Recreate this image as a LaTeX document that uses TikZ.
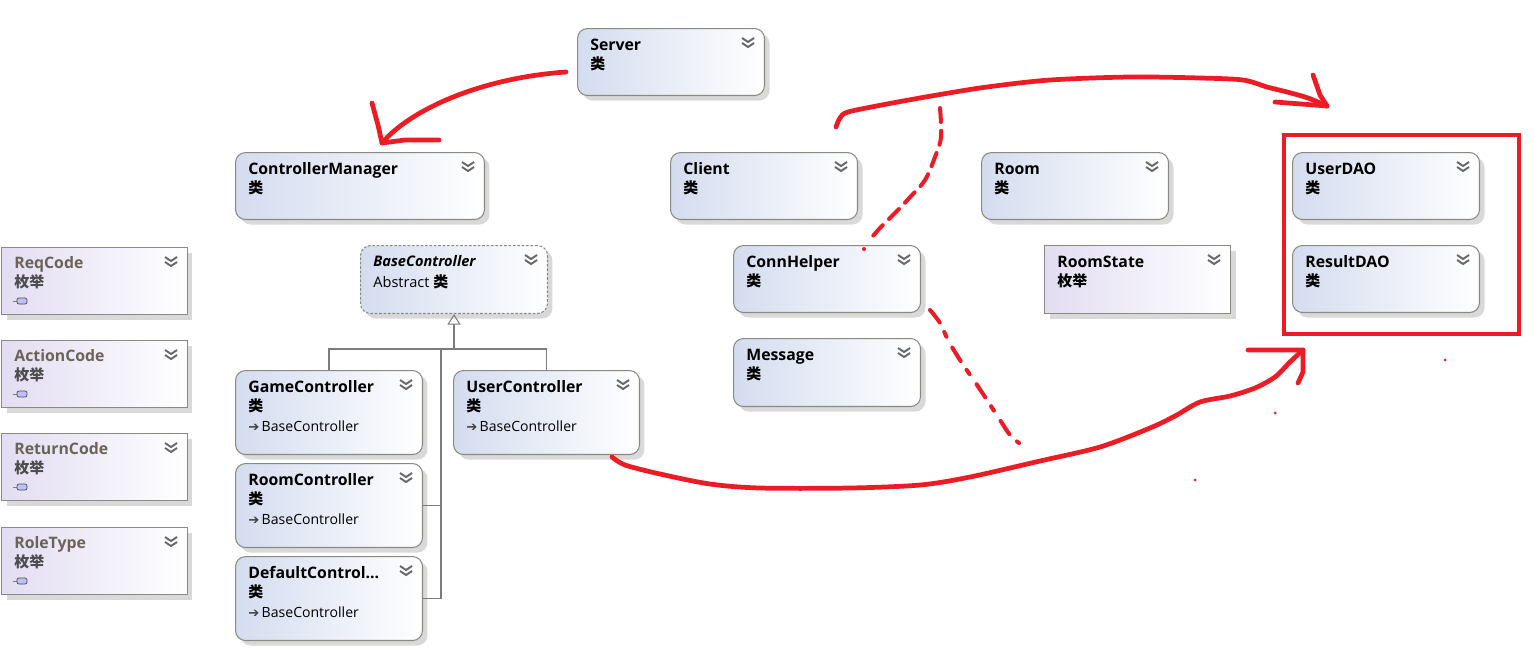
\documentclass[tikz,border=0pt]{standalone}
\usepackage{fontspec}
\setmainfont{Open Sans}
\newfontfamily\cjk{Noto Sans CJK SC}
\newfontfamily\symb{DejaVu Sans}
\usepackage{xcolor}
\usepackage{tikz}
\usetikzlibrary{arrows.meta, calc, shadows}
\definecolor{boxblue}{RGB}{212, 220, 239}
\definecolor{boxlilac}{RGB}{226, 221, 242}
\definecolor{boxline}{RGB}{138, 138, 130}
\definecolor{chevgray}{RGB}{105, 105, 105}
\definecolor{enumtitle}{RGB}{108, 99, 88}
\definecolor{inkred}{RGB}{237, 28, 36}
\definecolor{linkgray}{RGB}{125, 125, 120}

\newcommand{\kind}[1]{{\cjk\bfseries\fontsize{8.5}{11.2}\selectfont #1}}
\newcommand{\inherits}[1]{{\fontsize{8}{11.2}\selectfont{\symb\fontsize{7.5}{11.2}\selectfont\textcolor{black!75}{➔}}\,#1}}

\begin{document}
\begin{tikzpicture}[
        x=0.02cm, y=-0.02cm,
        cls/.style={rectangle, rounded corners=0.2cm, draw=boxline, line width=0.6pt, left color=boxblue, right color=white, anchor=north west, minimum width=3.74cm, minimum height=1.34cm, inner sep=0pt, drop shadow={shadow xshift=0.1cm, shadow yshift=-0.1cm, fill=black!15, opacity=1}},
        ctrl/.style={cls, minimum height=1.68cm},
        abstract/.style={cls, dash pattern=on 1.5pt off 1pt},
        enum/.style={cls, sharp corners, left color=boxlilac},
        txt/.style={anchor=north west, inner sep=0pt, align=left, font=\fontsize{9}{11.2}\selectfont},
        gen/.style={draw=linkgray, line width=0.6pt},
        ink/.style={draw=inkred, line width=2.7pt, line cap=round, line join=round},
        chev/.pic={
            \draw[chevgray, line width=1.1pt] (-6,-3) -- (0,1) -- (6,-3);
            \draw[chevgray, line width=1.1pt] (-6,2) -- (0,6) -- (6,2);
        },
        enumic/.pic={
            \draw[gray, line width=0.5pt] (-4,0) -- (0,0);
            \draw[black!70, fill=blue!25, line width=0.4pt, rounded corners=0.04cm] (0,-3) rectangle (10,3);
        }
    ]
        \useasboundingbox (0,0) rectangle (1534,650);

        % Server and manager
        \node (srv) [cls] at (577,28) {};
        \node [txt] (srv-t) at ([shift={(13,8)}]srv.north west) {\strut\textbf{Server}\\\kind{类}};
        \pic at ([shift={(-17,13)}]srv.north east) {chev};

        \node (cmgr) [cls, minimum width=4.98cm] at (235,152) {};
        \node [txt] (cmgr-t) at ([shift={(13,8)}]cmgr.north west) {\strut\textbf{ControllerManager}\\\kind{类}};
        \pic at ([shift={(-17,13)}]cmgr.north east) {chev};

        % Controllers
        \node (basec) [abstract, minimum height=1.36cm] at (360,245) {};
        \node [txt, font=\fontsize{8.3}{11.6}\selectfont] (basec-t) at ([shift={(13,7)}]basec.north west) {\strut\textbf{\textit{BaseController}}\\Abstract \kind{类}};
        \pic at ([shift={(-17,13)}]basec.north east) {chev};

        \node (gamec) [ctrl] at (235,370) {};
        \node [txt] (gamec-t) at ([shift={(13,8)}]gamec.north west) {\strut\textbf{GameController}\\\kind{类}\\\inherits{BaseController}};
        \pic at ([shift={(-17,13)}]gamec.north east) {chev};

        \node (userc) [ctrl, minimum width=3.72cm] at (453,370) {};
        \node [txt] (userc-t) at ([shift={(13,8)}]userc.north west) {\strut\textbf{UserController}\\\kind{类}\\\inherits{BaseController}};
        \pic at ([shift={(-17,13)}]userc.north east) {chev};

        \node (roomc) [ctrl] at (235,463) {};
        \node [txt] (roomc-t) at ([shift={(13,8)}]roomc.north west) {\strut\textbf{RoomController}\\\kind{类}\\\inherits{BaseController}};
        \pic at ([shift={(-17,13)}]roomc.north east) {chev};

        \node (dfltc) [ctrl] at (235,556) {};
        \node [txt] (dfltc-t) at ([shift={(13,8)}]dfltc.north west) {\strut\textbf{DefaultControl...}\\\kind{类}\\\inherits{BaseController}};
        \pic at ([shift={(-17,13)}]dfltc.north east) {chev};

        % Inheritance
        \coordinate (jn) at (basec.south |- 0,349);
        \coordinate (jv) at (441,349);
        \draw[gen, -{Triangle[open, width=7.5pt, length=6pt]}] (jn) -- (basec.south);
        \draw[gen] (gamec.north) |- (userc.north |- jn) -- (userc.north);
        \draw[gen] (dfltc.east) -| (jv);
        \draw[gen] (roomc.east) -- (roomc.east -| jv);

        % Network classes
        \node (client) [cls] at (670,152) {};
        \node [txt] (client-t) at ([shift={(13,8)}]client.north west) {\strut\textbf{Client}\\\kind{类}};
        \pic at ([shift={(-17,13)}]client.north east) {chev};

        \node (connh) [cls] at (733,245) {};
        \node [txt] (connh-t) at ([shift={(13,8)}]connh.north west) {\strut\textbf{ConnHelper}\\\kind{类}};
        \pic at ([shift={(-17,13)}]connh.north east) {chev};

        \node (msg) [cls, minimum height=1.36cm] at (733,338) {};
        \node [txt] (msg-t) at ([shift={(13,8)}]msg.north west) {\strut\textbf{Message}\\\kind{类}};
        \pic at ([shift={(-17,13)}]msg.north east) {chev};

        \node (room) [cls] at (981,152) {};
        \node [txt] (room-t) at ([shift={(13,8)}]room.north west) {\strut\textbf{Room}\\\kind{类}};
        \pic at ([shift={(-17,13)}]room.north east) {chev};

        \node (roomst) [enum, minimum width=3.72cm, minimum height=1.36cm] at (1044,245) {};
        \node [txt] (roomst-t) at ([shift={(13,8)}]roomst.north west) {\strut\textbf{RoomState}\\\kind{枚举}};
        \pic at ([shift={(-17,13)}]roomst.north east) {chev};

        % DAO
        \node (udao) [cls] at (1292,152) {};
        \node [txt] (udao-t) at ([shift={(13,8)}]udao.north west) {\strut\textbf{UserDAO}\\\kind{类}};
        \pic at ([shift={(-17,13)}]udao.north east) {chev};

        \node (rdao) [cls] at (1292,245) {};
        \node [txt] (rdao-t) at ([shift={(13,8)}]rdao.north west) {\strut\textbf{ResultDAO}\\\kind{类}};
        \pic at ([shift={(-17,13)}]rdao.north east) {chev};

        % Enums
        \node (reqc) [enum, minimum width=3.72cm] at (1,247) {};
        \node [txt] (reqc-t) at ([shift={(13,7)}]reqc.north west) {\strut\textcolor{enumtitle}{\textbf{ReqCode}}\\\textcolor{black!70}{\kind{枚举}}};
        \pic at ([shift={(-17,13)}]reqc.north east) {chev};
        \pic at ([shift={(16,54)}]reqc.north west) {enumic};

        \node (actc) [enum, minimum width=3.72cm] at (1,340) {};
        \node [txt] (actc-t) at ([shift={(13,7)}]actc.north west) {\strut\textcolor{enumtitle}{\textbf{ActionCode}}\\\textcolor{black!70}{\kind{枚举}}};
        \pic at ([shift={(-17,13)}]actc.north east) {chev};
        \pic at ([shift={(16,54)}]actc.north west) {enumic};

        \node (retc) [enum, minimum width=3.72cm] at (1,433) {};
        \node [txt] (retc-t) at ([shift={(13,7)}]retc.north west) {\strut\textcolor{enumtitle}{\textbf{ReturnCode}}\\\textcolor{black!70}{\kind{枚举}}};
        \pic at ([shift={(-17,13)}]retc.north east) {chev};
        \pic at ([shift={(16,54)}]retc.north west) {enumic};

        \node (rolet) [enum, minimum width=3.72cm] at (1,527) {};
        \node [txt] (rolet-t) at ([shift={(13,7)}]rolet.north west) {\strut\textcolor{enumtitle}{\textbf{RoleType}}\\\textcolor{black!70}{\kind{枚举}}};
        \pic at ([shift={(-17,13)}]rolet.north east) {chev};
        \pic at ([shift={(16,54)}]rolet.north west) {enumic};

        % Red ink notes
        \coordinate (ink1) at ([shift={(-11,44)}]srv.north west);
        \coordinate (tip1) at (382,143);
        \draw[ink] (ink1) .. controls (480,78) and (410,110) .. (tip1);
        \draw[ink] (372,103) -- (378,125) -- (tip1) -- (405,140) -- (439,140);

        \coordinate (ink2) at (836,127);
        \coordinate (tip2) at (1327,106);
        \draw[ink] plot[smooth, tension=0.5] coordinates {(ink2) (840,118) (848,112) (887,104) (937,95) (987,87) (1050,80) (1130,77) (1200,78) (1243,80) (1267,87) (1287,92) (1308,98) (tip2)};
        \draw[ink] (1313,75) -- (1320,95) -- (tip2);
        \draw[ink] (1275,102) -- (tip2);

        \draw[ink, line width=2.3pt, dash pattern=on 8pt off 5pt] plot[smooth, tension=0.6] coordinates {(940,108) (941,137) (935,157) (925,180) (912,195) (898,210) (880,228) (868,242)};
        \fill[inkred] (864,249) circle (0.04cm);
        \draw[ink, line width=2.3pt, dash pattern=on 9pt off 6pt on 3pt off 7pt] plot[smooth, tension=0.6] coordinates {(930,310) (940,323) (948,340) (960,360) (975,382) (987,400) (1000,420) (1010,435) (1019,443)};

        \coordinate (ink4) at (612,457);
        \coordinate (tip4) at (1303,350);
        \draw[ink] plot[smooth, tension=0.5] coordinates {(ink4) (625,465) (660,474) (710,484) (760,488) (850,488) (920,485) (970,477) (1040,461) (1100,447) (1150,428) (1175,416) (1200,402) (1230,396) (1255,388) (1275,377) (1290,362) (tip4)};
        \draw[ink] (1248,350) -- (tip4) -- (1303,372) -- (1298,383);

        \draw[ink, line cap=butt, line join=miter] ([shift={(-8,-17)}]udao.north west) rectangle ([shift={(39,21)}]rdao.south east);

        \fill[inkred] (1445,360) circle (0.03cm);
        \fill[inkred] (1275,413) circle (0.03cm);
        \fill[inkred] (1195,480) circle (0.03cm);
    \end{tikzpicture}
\end{document}
